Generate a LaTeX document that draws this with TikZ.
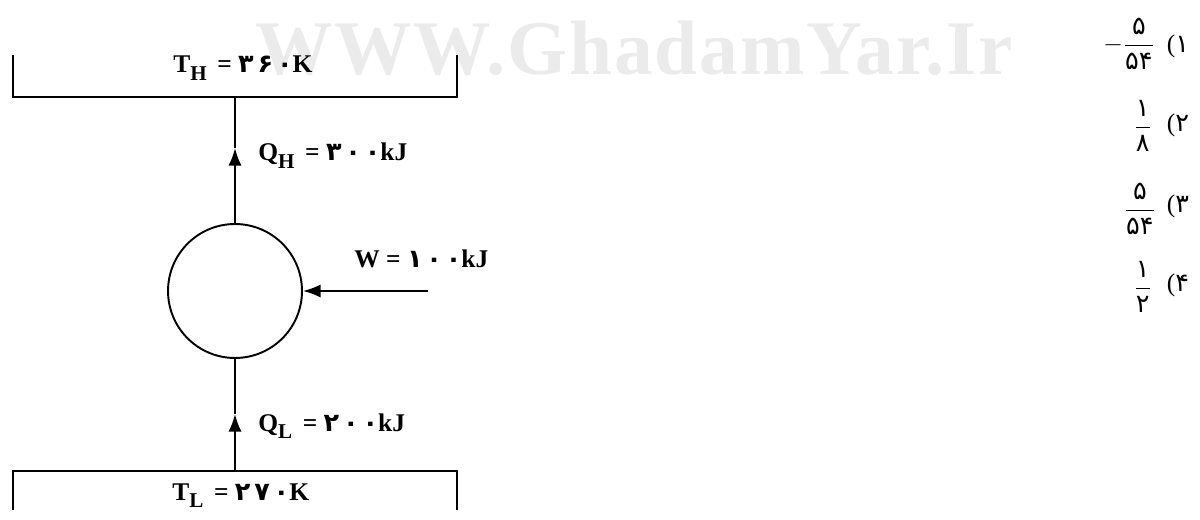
\documentclass[tikz,border=0pt]{standalone}
\usepackage{fontspec}
\setmainfont{Liberation Serif}
\newfontfamily\fadigits[Script=Arabic]{DejaVu Sans}
\newfontfamily\stampfont[LetterSpace=2.5]{Liberation Serif}
\usetikzlibrary{positioning,arrows.meta}
\newcommand\fa[1]{{\fadigits #1}}
\newcommand\fanum[3]{\fa{#1}\kern2.2pt\fa{#2}\kern2.2pt\fa{#3}}
\newcommand\lowsub[1]{\raisebox{-0.6ex}{\fontsize{12}{12}\selectfont #1}}
\newcommand\fafrac[2]{$\displaystyle\frac{\mbox{\fa{#1}}}{\mbox{\fa{#2}}}$}
\tikzset{
  tip/.style={-{Latex[length=10pt,width=7.5pt]}},
  wall/.style={line width=1.1pt},
  flow/.style={line width=1.1pt},
  heat/.style={font=\fontsize{14.5}{16}\selectfont\bfseries,inner sep=0pt,anchor=base west},
  choice/.style={font=\fontsize{14.5}{16}\selectfont,inner sep=0pt},
  stamp/.style={font=\stampfont\fontsize{44}{44}\selectfont\bfseries,text=black!8,inner sep=0pt,anchor=base west}
}
\begin{document}
\begin{tikzpicture}[x=0.02cm,y=-0.02cm]
	\useasboundingbox (0,0) rectangle (1200,520);

	% watermark behind everything
	\node[stamp] (mark) at (255,75) {WWW.GhadamYar.Ir};

	% reservoirs
	\draw[wall] (13,55) -- (13,97) -- (457,97) -- (457,55);
	\draw[wall] (13,510) -- (13,471) -- (457,471) -- (457,510);
	\coordinate (hot) at (235,97);
	\coordinate (cold) at (235,471);
	\node[heat] (TH) at (173,73) {T\lowsub{H}\ \,=\ \fanum{۳}{۶}{۰}K};
	\node[heat] (TL) at (172,500) {T\lowsub{L}\ \,=\ \fanum{۲}{۷}{۰}K};

	% engine
	\node[circle,draw,line width=1.1pt,minimum size=2.68cm,inner sep=0pt] (engine) at (235,291) {};
	\coordinate (qhtip) at (235,148);
	\coordinate (qltip) at (235,414);
	\coordinate (wfrom) at (428,291);

	\draw[flow,tip] (engine.north) -- (qhtip);
	\draw[flow] (qhtip) -- (hot);
	\draw[flow,tip] (cold) -- (qltip);
	\draw[flow] (qltip) -- (engine.south);
	\draw[flow,tip] (wfrom) -- (engine.east);

	\node[heat] (QH) at (258,161) {Q\lowsub{H}\ \,=\ \fanum{۳}{۰}{۰}kJ};
	\node[heat] (W) at (354,268) {W\ =\ \fanum{۱}{۰}{۰}kJ};
	\node[heat] (QL) at (258,431) {Q\lowsub{L}\ \,=\ \fanum{۲}{۰}{۰}kJ};

	% answer choices
	\node[choice,anchor=east] (f1) at (1155,44) {$-$\fafrac{۵}{۵۴}};
	\node[choice,anchor=east] (f2) at (1152,126) {\fafrac{۱}{۸}};
	\node[choice,anchor=east] (f3) at (1156,209) {\fafrac{۵}{۵۴}};
	\node[choice,anchor=east] (f4) at (1152,287) {\fafrac{۱}{۲}};
	\node[choice] (c1) at (1178,46) {(\fa{۱}};
	\node[choice] (c2) at (1178,125) {(\fa{۲}};
	\node[choice] (c3) at (1178,206) {(\fa{۳}};
	\node[choice] (c4) at (1178,285) {(\fa{۴}};
\end{tikzpicture}
\end{document}
